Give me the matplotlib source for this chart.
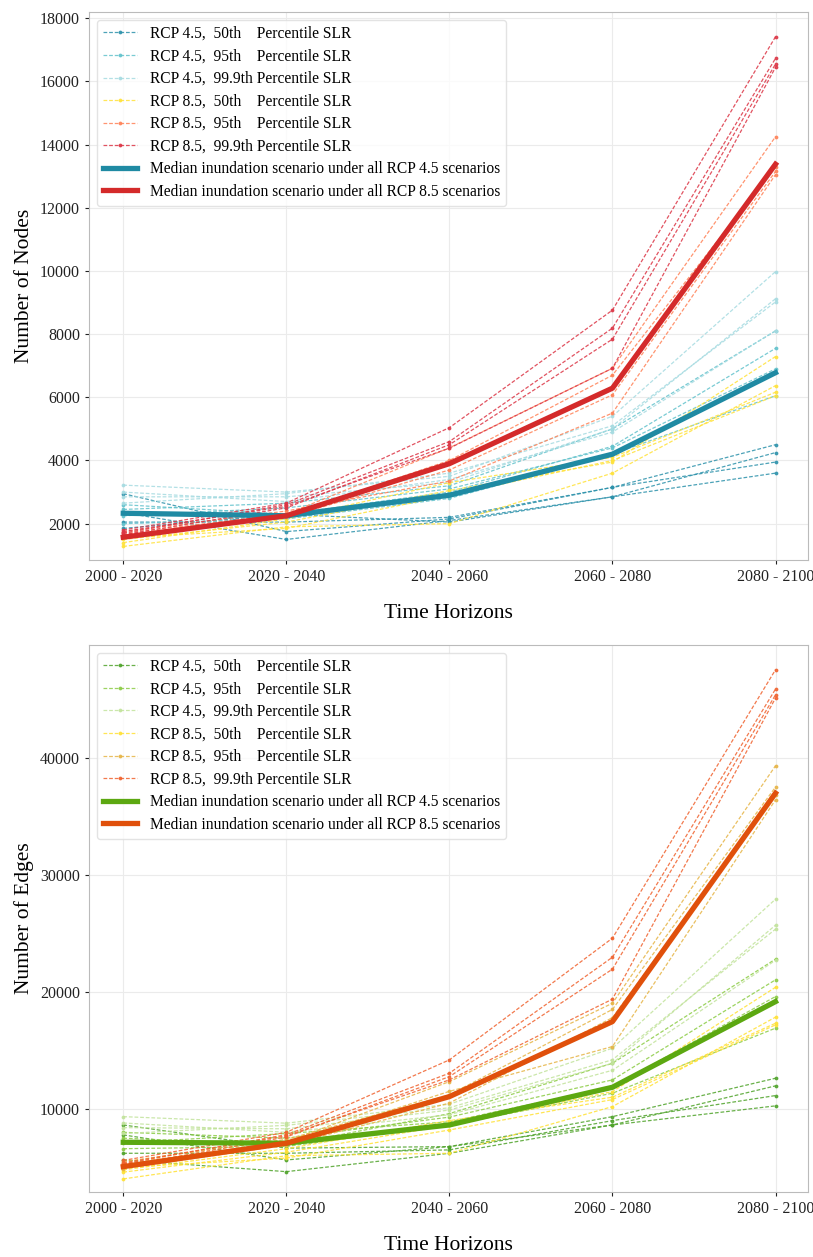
import matplotlib
matplotlib.use("Agg")
import matplotlib.pyplot as plt

plt.rcParams['font.family'] = ['Liberation Serif', 'DejaVu Serif']

horizons = ['2000 - 2020', '2020 - 2040', '2040 - 2060', '2060 - 2080', '2080 - 2100']
labels = ['RCP 4.5,  50th    Percentile SLR',
          'RCP 4.5,  95th    Percentile SLR',
          'RCP 4.5,  99.9th Percentile SLR',
          'RCP 8.5,  50th    Percentile SLR',
          'RCP 8.5,  95th    Percentile SLR',
          'RCP 8.5,  99.9th Percentile SLR']
median_labels = ['Median inundation scenario under all RCP 4.5 scenarios',
                 'Median inundation scenario under all RCP 8.5 scenarios']

# number of nodes, four runs per scenario
nodes_45_50 = [[2950, 1750, 2150, 3150, 4500],
               [2350, 1500, 2100, 2850, 4250],
               [2050, 2050, 2200, 3150, 3950],
               [1850, 2300, 2050, 2850, 3600]]
nodes_45_95 = [[2600, 2300, 3000, 4450, 7550],
               [2250, 2500, 3100, 4400, 6900],
               [2000, 2150, 2800, 4200, 6050],
               [2450, 2650, 3200, 5000, 8100]]
nodes_45_999 = [[3220, 3000, 3500, 5400, 9980],
                [2850, 2850, 3300, 5000, 9120],
                [2650, 2950, 3600, 5100, 9020],
                [3000, 2700, 3400, 4900, 8110]]
nodes_85_50 = [[1280, 1900, 2000, 3600, 6370],
               [1500, 2050, 3050, 3950, 7290],
               [1400, 2150, 3300, 4100, 6160],
               [1550, 1850, 2900, 4000, 6050]]
nodes_85_95 = [[1700, 2300, 4400, 6920, 14250],
               [1650, 2250, 4000, 6700, 13300],
               [1600, 2200, 3700, 6080, 13150],
               [1750, 2400, 3350, 5500, 13050]]
nodes_85_999 = [[1800, 2650, 5040, 8760, 17415],
                [1700, 2600, 4600, 8190, 16730],
                [1650, 2500, 4500, 7840, 16550],
                [1750, 2550, 4390, 6920, 16445]]
nodes_med_45 = [2330, 2250, 2900, 4200, 6780]
nodes_med_85 = [1570, 2250, 3900, 6290, 13380]

# number of edges
edges_45_50 = [[8630, 6650, 6780, 9340, 12620],
               [7780, 5640, 6780, 8630, 11970],
               [6210, 6210, 6500, 9000, 11140],
               [5640, 4640, 6210, 8630, 10260]]
edges_45_95 = [[8000, 7500, 9300, 12480, 21030],
               [7100, 7900, 8900, 11900, 19600],
               [6600, 6800, 8600, 11340, 16900],
               [7500, 6900, 9600, 13900, 22800]]
edges_45_999 = [[9340, 8780, 10400, 15190, 27920],
                [8400, 8300, 9900, 13900, 25700],
                [7900, 8600, 10100, 14200, 25360],
                [8800, 8000, 9500, 13300, 22700]]
edges_85_50 = [[4020, 6000, 6210, 10200, 17840],
               [4600, 6300, 8600, 11480, 20390],
               [4800, 6600, 9000, 11000, 17320],
               [5000, 5800, 8200, 10800, 17180]]
edges_85_95 = [[5300, 7200, 12330, 19030, 39316],
               [5100, 7000, 11500, 15330, 36410],
               [4900, 6900, 10500, 17800, 36800],
               [5500, 7400, 11200, 18500, 37500]]
edges_85_999 = [[5600, 8000, 14190, 24590, 47521],
                [5300, 7800, 13050, 22960, 45870],
                [5100, 7600, 12760, 21940, 45380],
                [5400, 7700, 12480, 19380, 45100]]
edges_med_45 = [7150, 7070, 8630, 11850, 19170]
edges_med_85 = [5070, 7070, 11050, 17460, 36980]

nodes_groups = [nodes_45_50, nodes_45_95, nodes_45_999, nodes_85_50, nodes_85_95, nodes_85_999]
edges_groups = [edges_45_50, edges_45_95, edges_45_999, edges_85_50, edges_85_95, edges_85_999]

nodes_colors = ['#2d92ab', '#62c2cc', '#a6dbe1', '#ffe23a', '#ff8257', '#dc3545']
nodes_med_colors = ['#1f8aa3', '#d42a2a']
edges_colors = ['#4fa32a', '#8ccc45', '#c2e39c', '#ffe135', '#e6b445', '#f0622e']
edges_med_colors = ['#5ca811', '#e0500b']

fig = plt.figure(figsize=(8.13, 12.57), dpi=100)
ax1 = fig.add_axes([0.1095, 0.5545, 0.8845, 0.436])
ax2 = fig.add_axes([0.1095, 0.0517, 0.8845, 0.4353])

x = list(range(len(horizons)))


def draw(ax, groups, colors, med45, med85, med_colors, ylabel, ylim):
    for grp, col, lab in zip(groups, colors, labels):
        for i, run in enumerate(grp):
            ax.plot(x, run, linestyle=(0, (3, 1.5)), linewidth=0.9, color=col, alpha=0.85,
                    marker='.', markersize=3.5, label=lab if i == 0 else None)
    ax.plot(x, med45, color=med_colors[0], linewidth=3.8, label=median_labels[0])
    ax.plot(x, med85, color=med_colors[1], linewidth=3.8, label=median_labels[1])
    ax.set_xticks(x)
    ax.set_xticklabels(horizons, fontsize=11.5)
    ax.tick_params(axis='y', labelsize=11.5)
    ax.tick_params(colors='#222222', length=3)
    ax.set_xlim(-0.21, 4.2)
    ax.set_ylim(*ylim)
    ax.set_xlabel('Time Horizons', fontsize=15.5, labelpad=14)
    ax.set_ylabel(ylabel, fontsize=15.5, labelpad=4)
    ax.grid(color='#ebebeb', linewidth=0.8)
    ax.set_axisbelow(True)
    for s in ax.spines.values():
        s.set_color('#bbbbbb')
    leg = ax.legend(loc='upper left', fontsize=11.2, frameon=True, fancybox=True,
                    borderaxespad=0.5, handlelength=2.2, labelspacing=0.42)
    leg.get_frame().set_edgecolor('#dddddd')


draw(ax1, nodes_groups, nodes_colors, nodes_med_45, nodes_med_85, nodes_med_colors,
     'Number of Nodes', (850, 18200))
draw(ax2, edges_groups, edges_colors, edges_med_45, edges_med_85, edges_med_colors,
     'Number of Edges', (2900, 49650))

fig.savefig('out.png', dpi=100)
